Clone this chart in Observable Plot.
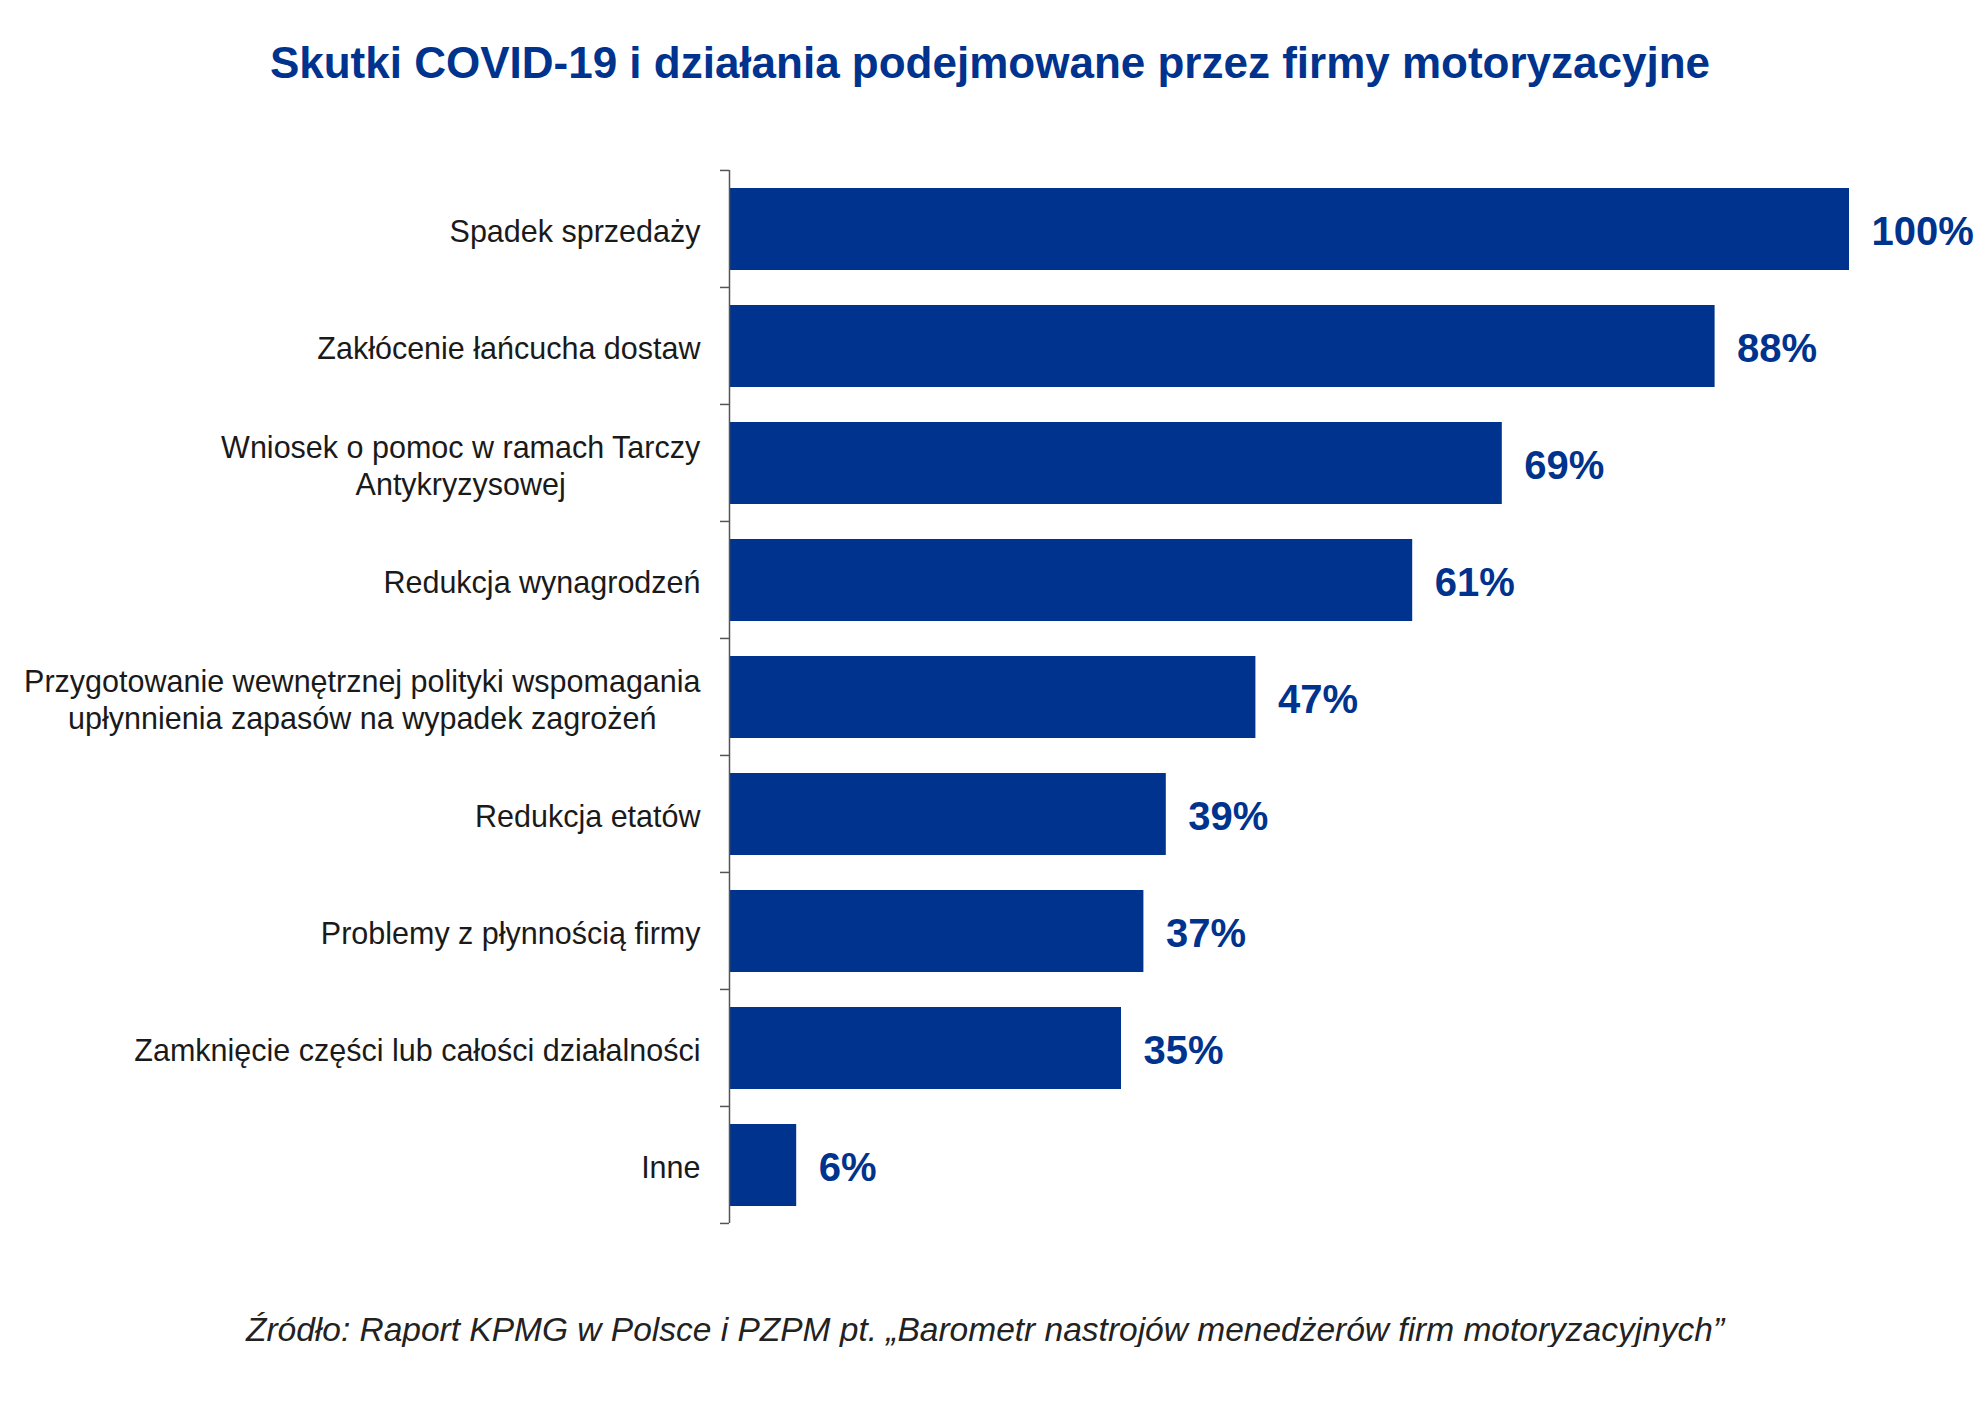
<!DOCTYPE html>
<html lang="pl">
<head>
<meta charset="utf-8">
<script src="https://cdn.jsdelivr.net/npm/d3@7"></script>
<script src="https://cdn.jsdelivr.net/npm/@observablehq/plot@0.6"></script>
<style>
  html, body { margin: 0; padding: 0; background: #ffffff; }
  body { width: 1980px; font-family: "Liberation Sans", Arial, sans-serif; }
  #title {
    height: 140px; box-sizing: border-box; padding-top: 41px;
    text-align: center; font-size: 44px; line-height: 44px; font-weight: bold;
    color: #00338D; white-space: nowrap;
  }
  #chart svg { display: block; }
  #caption {
    box-sizing: border-box; padding-top: 50px; padding-right: 10px;
    text-align: center; font-size: 33.5px; line-height: 33.5px; font-style: italic;
    color: #222222; white-space: nowrap;
  }
</style>
</head>
<body>
<div id="title">Skutki COVID-19 i działania podejmowane przez firmy motoryzacyjne</div>
<div id="chart"></div>
<div id="caption">Źródło: Raport KPMG w Polsce i PZPM pt. „Barometr nastrojów menedżerów firm motoryzacyjnych”</div>
<script>
const categories = [
  "Spadek sprzedaży",
  "Zakłócenie łańcucha dostaw",
  "Wniosek o pomoc w ramach Tarczy Antykryzysowej",
  "Redukcja wynagrodzeń",
  "Przygotowanie wewnętrznej polityki wspomagania upłynnienia zapasów na wypadek zagrożeń",
  "Redukcja etatów",
  "Problemy z płynnością firmy",
  "Zamknięcie części lub całości działalności",
  "Inne"
];
const values = [100, 88, 69, 61, 47, 39, 37, 35, 6];
const tickLabels = [
  "Spadek sprzedaży",
  "Zakłócenie łańcucha dostaw",
  "Wniosek o pomoc w ramach Tarczy\nAntykryzysowej",
  "Redukcja wynagrodzeń",
  "Przygotowanie wewnętrznej polityki wspomagania\nupłynnienia zapasów na wypadek zagrożeń",
  "Redukcja etatów",
  "Problemy z płynnością firmy",
  "Zamknięcie części lub całości działalności",
  "Inne"
];

const data = categories.map((c, i) => ({category: c, value: values[i], label: tickLabels[i]}));

const BLUE = "#00338D";
const FONT = '"Liberation Sans", Arial, sans-serif';
const LABEL_SIZE = 30.5;
const LABEL_GAP = 29;

// measure text width for centring multi-line label blocks
const ctx = document.createElement("canvas").getContext("2d");
ctx.font = `${LABEL_SIZE}px "Liberation Sans", Arial, sans-serif`;
const blockWidth = s => Math.max(...s.split("\n").map(line => ctx.measureText(line).width));

function bandTicks(index, scales, channels, dims) {
  const y = scales.y, x = scales.x;
  const step = y(categories[1]) - y(categories[0]);
  const x0 = x(0);
  const bounds = categories.map(c => y(c) - step * 0.15)
    .concat([y(categories[categories.length - 1]) + step * 0.85]);
  const g = d3.create("svg:g").attr("stroke", "#555555").attr("stroke-width", 1.5);
  for (const b of bounds) {
    g.append("line").attr("x1", x0 - 9).attr("x2", x0).attr("y1", b).attr("y2", b);
  }
  return g.node();
}

const single = data.filter(d => !d.label.includes("\n"));
const multi = data.filter(d => d.label.includes("\n"));

const labelStyle = {fontSize: LABEL_SIZE, fill: "#1a1a1a", lineHeight: 1.22};

const chart = Plot.plot({
  width: 1980,
  height: 1123,
  marginTop: 30,
  marginBottom: 40,
  marginLeft: 729,
  marginRight: 131,
  style: {fontFamily: FONT, background: "#ffffff", color: "#1a1a1a", overflow: "visible"},
  x: {domain: [0, 100], axis: null},
  y: {domain: categories, paddingInner: 0.3, paddingOuter: 0.15, axis: null},
  marks: [
    Plot.barX(data, {x: "value", y: "category", fill: BLUE}),
    Plot.ruleX([0], {stroke: "#555555", strokeWidth: 1.5}),
    bandTicks,
    Plot.text(single, {
      x: () => 0, y: "category", text: "label",
      textAnchor: "end", dx: -LABEL_GAP, dy: 1, ...labelStyle
    }),
    ...multi.map(d => Plot.text([d], {
      x: () => 0, y: "category", text: "label",
      textAnchor: "middle", dx: -LABEL_GAP - blockWidth(d.label) / 2, dy: 1, ...labelStyle
    })),
    Plot.text(data, {
      x: "value", y: "category", text: d => d.value + "%",
      dx: 22, dy: 3, textAnchor: "start", fontSize: 40, fontWeight: "bold", fill: BLUE
    })
  ]
});
document.getElementById("chart").appendChild(chart);
</script>
</body>
</html>
